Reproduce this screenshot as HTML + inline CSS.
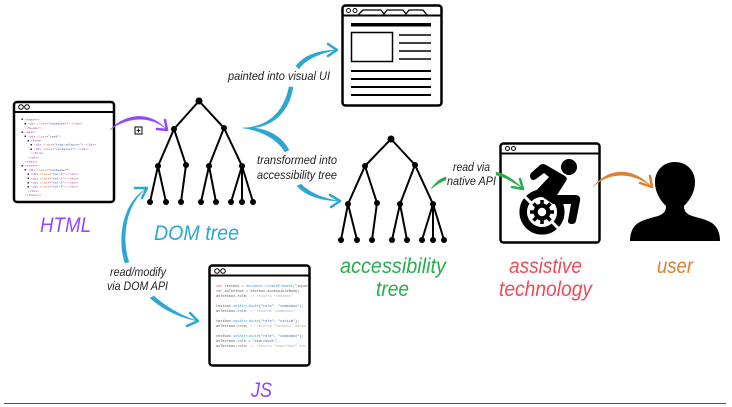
<!DOCTYPE html>
<html><head><meta charset="utf-8">
<style>
html,body{margin:0;padding:0;background:#fff;width:732px;height:407px;overflow:hidden}
svg{display:block}
text{font-family:"Liberation Sans",sans-serif}
.lab{font-style:italic;font-size:21px}
.sm{font-style:italic;font-size:11.5px;fill:#222}
.c text{font-family:"Liberation Mono",monospace;font-size:3.57px;fill:#555}
.h text{font-family:"Liberation Mono",monospace;font-size:3.05px;fill:#9a3f96}
.w{fill:#fff;stroke:#000;stroke-width:2.5}
.t{stroke:#000;stroke-width:2;fill:none}
.a{fill:none;stroke-width:2.5;stroke-linecap:round;stroke-linejoin:round}
.bl{stroke:#2aa7d3}
.f{stroke-width:.4;stroke-linejoin:round}
</style></head><body>
<svg width="732" height="407" viewBox="0 0 732 407" xmlns="http://www.w3.org/2000/svg">

<!-- HTML window -->
<rect class="w" x="14" y="102" width="100" height="100" rx="3"/>
<line x1="14" y1="112" x2="114" y2="112" stroke="#000" stroke-width="2"/>
<circle cx="21" cy="107" r="2.3" fill="none" stroke="#000" stroke-width="1"/>
<circle cx="27" cy="107" r="2.3" fill="none" stroke="#000" stroke-width="1"/>
<g class="h">
<text x="25" y="120.500">&lt;header&gt;</text>
<text x="28" y="124.700">&lt;div <tspan fill="#c2702c">class</tspan>=<tspan fill="#3040c0">"container"</tspan>&gt;…&lt;/div&gt;</text>
<text x="25" y="128.900">&lt;/header&gt;</text>
<text x="25" y="133.100">&lt;main&gt;</text>
<text x="28" y="137.300">&lt;div <tspan fill="#c2702c">class</tspan>=<tspan fill="#3040c0">"card"</tspan>&gt;</text>
<text x="31" y="141.500">&lt;form&gt;</text>
<text x="34" y="145.700">&lt;div <tspan fill="#c2702c">class</tspan>=<tspan fill="#3040c0">"trip-selector"</tspan>&gt;…&lt;/div&gt;</text>
<text x="34" y="149.900">&lt;div <tspan fill="#c2702c">class</tspan>=<tspan fill="#3040c0">"container"</tspan>&gt;…&lt;/div&gt;</text>
<text x="31" y="154.100">&lt;/form&gt;</text>
<text x="28" y="158.300">&lt;/div&gt;</text>
<text x="25" y="162.500">&lt;/main&gt;</text>
<text x="25" y="166.700">&lt;footer&gt;</text>
<text x="28" y="170.900">&lt;div <tspan fill="#c2702c">class</tspan>=<tspan fill="#3040c0">"container"</tspan>&gt;</text>
<text x="31" y="175.100">&lt;div <tspan fill="#c2702c">class</tspan>=<tspan fill="#3040c0">"col-1"</tspan>&gt;…&lt;/div&gt;</text>
<text x="31" y="179.300">&lt;div <tspan fill="#c2702c">class</tspan>=<tspan fill="#3040c0">"col-2"</tspan>&gt;…&lt;/div&gt;</text>
<text x="31" y="183.500">&lt;div <tspan fill="#c2702c">class</tspan>=<tspan fill="#3040c0">"col-3"</tspan>&gt;…&lt;/div&gt;</text>
<text x="31" y="187.700">&lt;div <tspan fill="#c2702c">class</tspan>=<tspan fill="#3040c0">"col-4"</tspan>&gt;…&lt;/div&gt;</text>
<text x="28" y="191.900">&lt;/div&gt;</text>
<text x="25" y="196.100">&lt;/footer&gt;</text>
</g>
<g fill="#333">
<rect x="21.500" y="118.500" width="1.500" height="1.500"/><rect x="24.500" y="123" width="1.500" height="1.500"/><rect x="21.500" y="131.500" width="1.500" height="1.500"/><rect x="24.500" y="135.500" width="1.500" height="1.500"/><rect x="27.500" y="140" width="1.500" height="1.500"/><rect x="30.500" y="144" width="1.500" height="1.500"/><rect x="30.500" y="148.500" width="1.500" height="1.500"/><rect x="21.500" y="165" width="1.500" height="1.500"/><rect x="24.500" y="169" width="1.500" height="1.500"/><rect x="27.500" y="173.500" width="1.500" height="1.500"/><rect x="27.500" y="177.500" width="1.500" height="1.500"/><rect x="27.500" y="182" width="1.500" height="1.500"/><rect x="27.500" y="186" width="1.500" height="1.500"/>
</g>

<!-- plus box -->
<rect x="135" y="127" width="7" height="7" fill="#fff" stroke="#000" stroke-width="1"/>
<path d="M136.500 130.500h4M138.500 128.500v4" stroke="#000" stroke-width="0.800"/>

<!-- DOM tree -->
<g class="t">
<path d="M199 101L174 129L158 166L150 202M158 166L166 202M174 129L186 165L181 202M199 101L224 128L209 166L201 202M209 166L216 202M224 128L242 166L231 202M242 166L242 202M242 166L253 202"/>
</g>
<g fill="#000">
<circle cx="199" cy="101" r="3.500"/><circle cx="174" cy="129" r="3"/><circle cx="224" cy="128" r="3"/>
<circle cx="158" cy="166" r="3"/><circle cx="186" cy="165" r="3"/><circle cx="209" cy="166" r="3"/><circle cx="242" cy="166" r="3"/>
<circle cx="150" cy="202" r="3"/><circle cx="166" cy="202" r="3"/><circle cx="181" cy="202" r="3"/><circle cx="201" cy="202" r="3"/><circle cx="216" cy="202" r="3"/><circle cx="231" cy="202" r="3"/><circle cx="242" cy="202" r="3"/><circle cx="253" cy="202" r="3"/>
</g>

<!-- Accessibility tree -->
<g class="t">
<path d="M391 139L365 166L348 204L341 240M348 204L357 240M365 166L377 203L372 240M391 139L415 165L400 204L392 240M400 204L407 240M415 165L433 204L422 240M433 204L433 240M433 204L444 240"/>
</g>
<g fill="#000">
<circle cx="391" cy="139" r="3.500"/><circle cx="365" cy="166" r="3"/><circle cx="415" cy="165" r="3"/>
<circle cx="348" cy="204" r="3"/><circle cx="377" cy="203" r="3"/><circle cx="400" cy="204" r="3"/><circle cx="433" cy="204" r="3"/>
<circle cx="341" cy="240" r="3"/><circle cx="357" cy="240" r="3"/><circle cx="372" cy="240" r="3"/><circle cx="392" cy="240" r="3"/><circle cx="407" cy="240" r="3"/><circle cx="422" cy="240" r="3"/><circle cx="433" cy="240" r="3"/><circle cx="444" cy="240" r="3"/>
</g>

<!-- Visual UI window -->
<rect class="w" x="342.500" y="5.500" width="99" height="100" rx="3"/>
<line x1="342" y1="15.500" x2="442" y2="15.500" stroke="#000" stroke-width="2"/>
<circle cx="348.500" cy="10.500" r="2" fill="none" stroke="#000" stroke-width="0.900"/>
<circle cx="355" cy="10.500" r="2" fill="none" stroke="#000" stroke-width="0.900"/>
<path d="M358 15L363 10H381L384 14L387 10H403L406 14L409 10H423L427 15" fill="none" stroke="#000" stroke-width="1.300"/>
<rect x="351" y="23" width="80" height="3.500" fill="#000"/>
<rect x="351.500" y="32.500" width="41" height="29" fill="#fff" stroke="#000" stroke-width="1.500"/>
<g stroke="#000" stroke-width="1.500"><path d="M399 35H431M399 43H431M399 51H431M399 59H431"/></g>
<g stroke="#000" stroke-width="2"><path d="M351 71H431M351 79H431M351 87H431M351 95H431"/></g>

<!-- JS window -->
<rect class="w" x="209.500" y="265.500" width="100" height="100" rx="3"/>
<line x1="209" y1="275.500" x2="310" y2="275.500" stroke="#000" stroke-width="2"/>
<circle cx="217" cy="271" r="2.300" fill="none" stroke="#000" stroke-width="1"/>
<circle cx="223" cy="271" r="2.300" fill="none" stroke="#000" stroke-width="1"/>
<g class="c">
<text x="216" y="287"><tspan fill="#d0509a">var</tspan> textbox = <tspan fill="#3a9fc8">document.createElement</tspan>("input</text>
<text x="216" y="292"><tspan fill="#d0509a">var</tspan> axTextbox = textbox.accessibleNode;</text>
<text x="216" y="297">axTextbox.role;  <tspan fill="#aaa">// returns "textbox"</tspan></text>
<text x="216" y="307">textbox.<tspan fill="#3a9fc8">setAttribute</tspan>(<tspan fill="#4466bb">"role", "combobox"</tspan>);</text>
<text x="216" y="312">axTextbox.role;  <tspan fill="#aaa">// returns "combobox"</tspan></text>
<text x="216" y="322">textbox.<tspan fill="#3a9fc8">setAttribute</tspan>(<tspan fill="#4466bb">"role", "victim"</tspan>);</text>
<text x="216" y="327">axTextbox.role;  <tspan fill="#aaa">// returns "textbox" becau</tspan></text>
<text x="216" y="337">textbox.<tspan fill="#3a9fc8">setAttribute</tspan>(<tspan fill="#4466bb">"role", "combobox"</tspan>);</text>
<text x="216" y="342">axTextbox.role = <tspan fill="#4466bb">"searchbox"</tspan>;</text>
<text x="216" y="347">axTextbox.role;  <tspan fill="#aaa">// returns "searchbox" bec</tspan></text>
</g>

<!-- AT window -->
<rect class="w" x="500.500" y="143.500" width="99" height="99" rx="3"/>
<line x1="500" y1="153.500" x2="600" y2="153.500" stroke="#000" stroke-width="2"/>
<circle cx="507.500" cy="148.500" r="2" fill="none" stroke="#000" stroke-width="1"/>
<circle cx="513.500" cy="148.500" r="2" fill="none" stroke="#000" stroke-width="1"/>

<!-- Wheelchair icon -->
<circle cx="569" cy="167" r="8" fill="#000"/>
<path d="M531 173L540 165Q543 163 546 165L565 176Q568 178 566 181L557 195L575 195Q581 195 580 201L576 221Q575 224 572 224Q568 224 568 221L571 204L553 204L535 192L549 177L544 173L536 179Q533 181 531 179Q529 176 531 173Z" fill="#000"/>
<circle cx="542" cy="212" r="18.800" fill="none" stroke="#000" stroke-width="7.500"/>
<path d="M524 196L536 208M548 218L562 232" stroke="#fff" stroke-width="3"/>
<g stroke="#000" stroke-width="3.500"><path d="M542 200V224M530 212H554M533.500 203.500L550.500 220.500M550.500 203.500L533.500 220.500"/></g>
<circle cx="542" cy="212" r="8.500" fill="#000"/>
<circle cx="542" cy="212" r="4.200" fill="#fff"/>

<!-- User silhouette -->
<path d="M675 162C687 162 695 171 695 182C695 193 689 201 684 206C684 212 687 214 692 216C703 219 712 221 716 227C719 231 720 236 720 241H630C630 236 631 231 634 227C638 221 647 219 658 216C663 214 666 212 666 206C661 201 655 193 655 182C655 171 663 162 675 162Z" fill="#000"/>

<!-- Arrows -->
<path class="f" fill="#9146ff" stroke="#9146ff" d="M110 130C122 116 148 108 167 130C148 112 122 120 110 130Z"/>
<path class="a" stroke="#9146ff" d="M157 129L167 130L165 120"/>
<g class="f" fill="#2aa7d3" stroke="#2aa7d3">
<path d="M243 128C268 127 284 112 289 87L293 87C289 114 270 130 243 128Z"/>
<path d="M296 66L299 69C306 59 320 53 337 50C318 50 303 56 296 66Z"/>
<path d="M243 128C262 126 281 134 289 150L285 152C277 139 262 131 243 128Z"/>
<path d="M297 186L301 184C309 192 323 199 340 201C322 201 306 196 297 186Z"/>
<path d="M125 263L129 262C122 243 123 206 147 188C120 204 118 243 125 263Z"/>
<path d="M150 298L154 296C165 306 181 316 198 321C180 318 162 309 150 298Z"/>
</g>
<g class="a bl">
<path d="M328 44L337 50L328 56"/>
<path d="M330 195L340 201L331 207"/>
<path d="M135 188L147 188L142 198"/>
<path d="M190 313L198 321L187 326"/>
</g>
<g class="f" fill="#25ae4b" stroke="#25ae4b">
<path d="M431 189C435 183 440 178 446 177L446 180C440 182 435 186 431 189Z"/>
<path d="M496 172C506 174 516 181 523 189C515 183 505 177 496 175Z"/>
</g>
<path class="a" stroke="#25ae4b" d="M512 187L523 189L520 179"/>
<path class="f" fill="#e07f2c" stroke="#e07f2c" d="M593 187C608 168 632 166 652 187C632 171 608 172 593 187Z"/>
<path class="a" stroke="#e07f2c" d="M640 183L652 187L650 176"/>

<!-- Big labels -->
<text class="lab" x="40" y="232" fill="#9146ff" textLength="51" lengthAdjust="spacingAndGlyphs">HTML</text>
<text class="lab" x="154" y="240" fill="#2aa7d3" textLength="85" lengthAdjust="spacingAndGlyphs">DOM tree</text>
<text class="lab" x="340" y="273" fill="#25ae4b" textLength="106" lengthAdjust="spacingAndGlyphs">accessibility</text>
<text class="lab" x="376" y="296" fill="#25ae4b" textLength="33" lengthAdjust="spacingAndGlyphs">tree</text>
<text class="lab" x="509" y="273" fill="#f04a5a" textLength="73" lengthAdjust="spacingAndGlyphs">assistive</text>
<text class="lab" x="499" y="296" fill="#f04a5a" textLength="93" lengthAdjust="spacingAndGlyphs">technology</text>
<text class="lab" x="657" y="273" fill="#e07f2c" textLength="36" lengthAdjust="spacingAndGlyphs">user</text>
<text class="lab" x="251" y="397" fill="#9146ff" textLength="21" lengthAdjust="spacingAndGlyphs">JS</text>

<!-- Small labels -->
<text class="sm" x="228" y="80" textLength="102" lengthAdjust="spacingAndGlyphs">painted into visual UI</text>
<text class="sm" x="257" y="164" textLength="80" lengthAdjust="spacingAndGlyphs">transformed into</text>
<text class="sm" x="257" y="179" textLength="80" lengthAdjust="spacingAndGlyphs">accessibility tree</text>
<text class="sm" x="453" y="171" textLength="37" lengthAdjust="spacingAndGlyphs">read via</text>
<text class="sm" x="447" y="185" textLength="49" lengthAdjust="spacingAndGlyphs">native API</text>
<text class="sm" x="110" y="276" textLength="56" lengthAdjust="spacingAndGlyphs">read/modify</text>
<text class="sm" x="107" y="290" textLength="61" lengthAdjust="spacingAndGlyphs">via DOM API</text>

<!-- Bottom rule -->
<line x1="4" y1="403.500" x2="726" y2="403.500" stroke="#2a5caa" stroke-width="1"/>
</svg>
</body></html>
